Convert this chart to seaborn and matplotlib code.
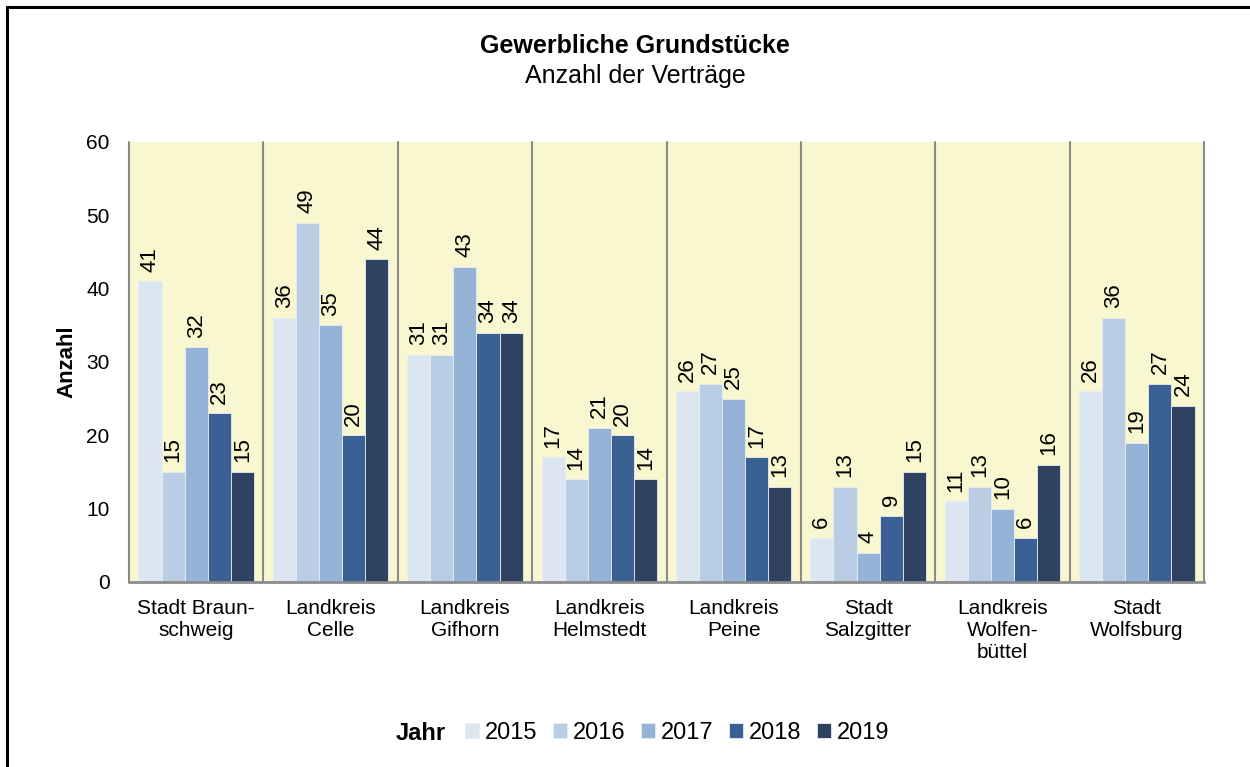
"""
plot.py — Gewerbliche Grundstücke, Anzahl der Verträge
"""

import numpy as np
import pandas as pd
import matplotlib.pyplot as plt
from matplotlib.lines import Line2D
import seaborn as sns

REGIONS = ["Stadt Braun-\nschweig", "Landkreis\nCelle", "Landkreis\nGifhorn",
           "Landkreis\nHelmstedt", "Landkreis\nPeine", "Stadt\nSalzgitter",
           "Landkreis\nWolfen-\nbüttel", "Stadt\nWolfsburg"]
YEARS = ["2015", "2016", "2017", "2018", "2019"]

V2015 = [41, 36, 31, 17, 26, 6, 11, 26]
V2016 = [15, 49, 31, 14, 27, 13, 13, 36]
V2017 = [32, 35, 43, 21, 25, 4, 10, 19]
V2018 = [23, 20, 34, 20, 17, 9, 6, 27]
V2019 = [15, 44, 34, 14, 13, 15, 16, 24]

YEAR_COLORS = ["#dce6f1", "#b9cde5", "#95b3d7", "#3b6093", "#2f4260"]

sns.set_theme(style="white")
plt.rcParams["font.family"] = ["Liberation Sans", "DejaVu Sans"]
plt.rcParams["text.color"] = "black"
plt.rcParams["xtick.color"] = "black"
plt.rcParams["ytick.color"] = "black"
plt.rcParams["axes.labelcolor"] = "black"

rows = []
for year, vals in zip(YEARS, [V2015, V2016, V2017, V2018, V2019]):
    for reg, v in zip(REGIONS, vals):
        rows.append({"Region": reg, "Jahr": year, "Anzahl": v})
df = pd.DataFrame(rows)

fig = plt.figure(figsize=(12.5, 7.67), dpi=100)
ax = fig.add_axes([0.1032, 0.2412, 0.86, 0.5737])
ax.set_facecolor("#f9f7d0")

sns.barplot(data=df, x="Region", y="Anzahl", hue="Jahr", order=REGIONS,
            hue_order=YEARS, palette=YEAR_COLORS, saturation=1, width=0.86,
            edgecolor="#e8edf3", linewidth=0.6, ax=ax, legend=True)

for cont in ax.containers:
    ax.bar_label(cont, rotation=90, padding=7, fontsize=16, color="black")

# group separators
for x in np.arange(-0.5, len(REGIONS), 1.0):
    ax.axvline(x, color="#8c8c8c", linewidth=1.5, clip_on=False)

ax.set_xlim(-0.5, len(REGIONS) - 0.5)
ax.set_ylim(0, 60)
ax.set_yticks(range(0, 61, 10))
ax.tick_params(axis="y", labelsize=15, length=0, pad=14)
ax.tick_params(axis="x", labelsize=15, length=0, pad=12)
ax.set_xlabel("")
ax.set_ylabel("Anzahl", fontsize=16, fontweight="bold", labelpad=6)
for s in ["top", "right", "left"]:
    ax.spines[s].set_visible(False)
ax.spines["bottom"].set_color("#8c8c8c")
ax.spines["bottom"].set_linewidth(2)

fig.text(0.508, 0.94, "Gewerbliche Grundstücke", ha="center", va="center",
         fontsize=18, fontweight="bold")
fig.text(0.508, 0.901, "Anzahl der Verträge", ha="center", va="center",
         fontsize=18)

handles, labels = ax.get_legend_handles_labels()
ax.get_legend().remove()
fig.text(0.357, 0.044, "Jahr", ha="right", va="center",
         fontsize=17, fontweight="bold")
fig.legend(handles, labels, loc="center left", bbox_to_anchor=(0.372, 0.044),
           ncol=5, frameon=False, fontsize=17, handlelength=0.6,
           handleheight=0.6, handletextpad=0.25, columnspacing=0.65,
           borderaxespad=0, borderpad=0)

# figure border (left and top)
fig.add_artist(Line2D([0.0056, 0.0056], [0, 0.991], color="black",
                      linewidth=2.2, transform=fig.transFigure))
fig.add_artist(Line2D([0.0056, 1.0], [0.991, 0.991], color="black",
                      linewidth=2.2, transform=fig.transFigure))

plt.savefig("out.png", dpi=100)
plt.close()
